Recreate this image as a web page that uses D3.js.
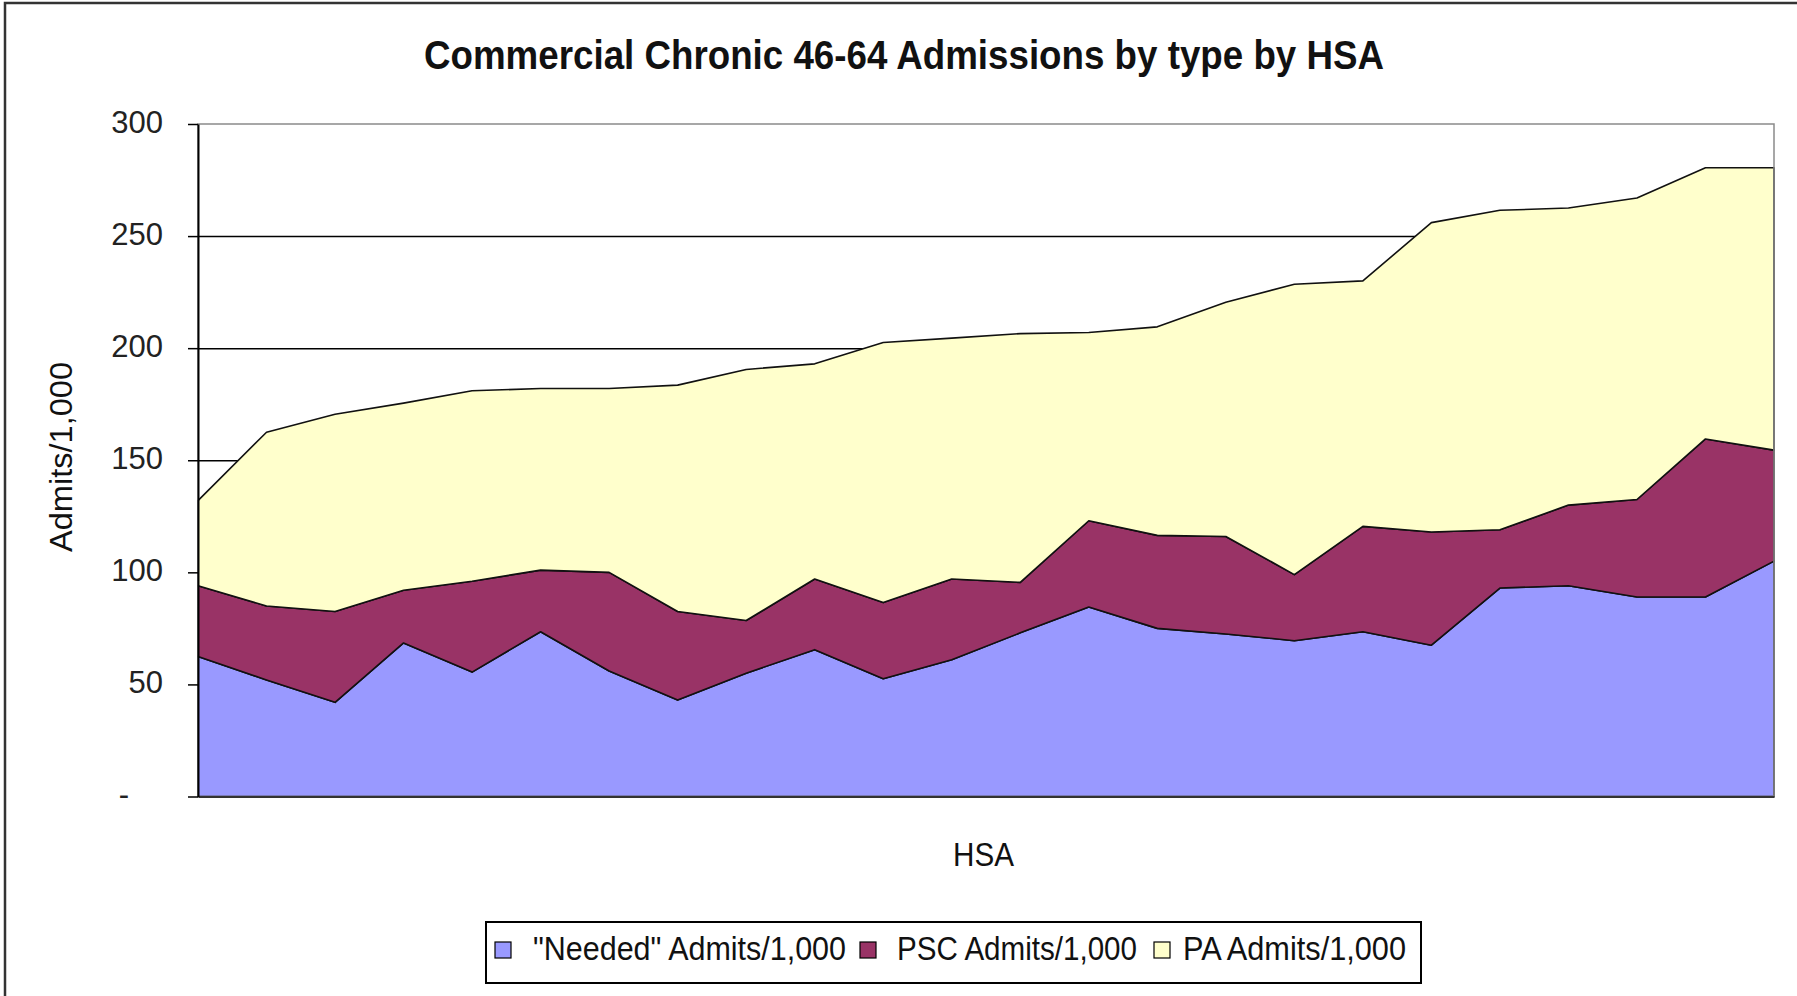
<!DOCTYPE html>
<html>
<head>
<meta charset="utf-8">
<script src="https://cdn.jsdelivr.net/npm/d3@7"></script>
<style>
body { margin: 0; background: #fff; }
text { font-family: Arial, "Liberation Sans", sans-serif; fill: #111; }
</style>
</head>
<body>
<div id="chart"></div>
<script>

// HSA categories (no labels are printed on the x axis)
var hsa = [1, 2, 3, 4, 5, 6, 7, 8, 9, 10, 11, 12, 13, 14, 15, 16, 17, 18, 19, 20, 21, 22, 23, 24];

// admits per 1,000
var needed = [62.5, 52, 42, 68.5, 55.5, 73.5, 56, 43, 55, 65.5, 52.5, 61, 73, 84.5, 75, 72.5, 69.5, 73.5, 67.5, 93, 94, 89, 89, 105];
var psc = [31.5, 33, 40.5, 23.5, 40.5, 27.5, 44, 39.5, 23.5, 31.5, 34, 36, 22.5, 38.5, 41.5, 43.5, 29.5, 47, 50.5, 26, 36, 43.5, 70.5, 49.5];
var pa = [38, 77.5, 88, 83.5, 85, 81, 82, 101, 112, 96, 116, 107.5, 111, 84, 93, 104.5, 129.5, 109.5, 138, 142.5, 132.5, 134.5, 121, 126];

var seriesKeys = ["needed", "psc", "pa"];
var seriesNames = ['"Needed" Admits/1,000', "PSC Admits/1,000", "PA Admits/1,000"];
var seriesColors = ["#9999ff", "#993366", "#ffffcc"];
var yTicks = [0, 50, 100, 150, 200, 250, 300];

var margin = {top: 124, right: 23, bottom: 199.5, left: 198};
var width = 1797 - margin.left - margin.right;
var height = 996 - margin.top - margin.bottom;

var svg = d3.select("#chart").append("svg")
  .attr("width", 1797)
  .attr("height", 996);

// outer chart frame (right and bottom edges fall outside the picture)
svg.append("rect")
  .attr("x", 5)
  .attr("y", 3)
  .attr("width", 1900)
  .attr("height", 1100)
  .attr("fill", "none")
  .attr("stroke", "#333")
  .attr("stroke-width", 2.5);

svg.append("text")
  .attr("x", 904)
  .attr("y", 69)
  .attr("text-anchor", "middle")
  .style("font-weight", "bold")
  .style("font-size", "40px")
  .attr("textLength", 960)
  .attr("lengthAdjust", "spacingAndGlyphs")
  .text("Commercial Chronic 46-64 Admissions by type by HSA");

var g = svg.append("g")
  .attr("transform", "translate(" + margin.left + "," + margin.top + ")");

var x = d3.scalePoint().domain(hsa).range([0, width]);
var y = d3.scaleLinear().domain([0, 300]).range([height, 0]);

var rows = hsa.map(function(h, i) {
  return {hsa: h, needed: needed[i], psc: psc[i], pa: pa[i]};
});
var layers = d3.stack().keys(seriesKeys)(rows);

// gridlines sit under the areas
var grid = g.append("g")
  .call(d3.axisLeft(y).tickValues([50, 100, 150, 200, 250]).tickSize(-width).tickFormat(""));
grid.select(".domain").remove();
grid.selectAll("line").attr("stroke", "#000").attr("stroke-width", 1.5);

var area = d3.area()
  .x(function(d) { return x(d.data.hsa); })
  .y0(function(d) { return y(d[0]); })
  .y1(function(d) { return y(d[1]); });

g.selectAll(".layer")
  .data(layers)
  .enter()
  .append("path")
  .attr("class", "layer")
  .attr("d", area)
  .attr("fill", function(d, i) { return seriesColors[i]; })
  .attr("stroke", "#111")
  .attr("stroke-width", 1.6)
  .attr("stroke-linejoin", "round");

// plot area border
g.append("rect")
  .attr("width", width)
  .attr("height", height)
  .attr("fill", "none")
  .attr("stroke", "#8a8a8a")
  .attr("stroke-width", 1.5);

var g_x = g.append("g")
  .attr("transform", "translate(0," + height + ")")
  .call(d3.axisBottom(x).tickValues([]).tickSizeOuter(0));
g_x.select(".domain").attr("stroke", "#333").attr("stroke-width", 2);

var g_y = g.append("g")
  .call(d3.axisLeft(y)
    .tickValues(yTicks)
    .tickSize(10)
    .tickSizeOuter(0)
    .tickPadding(25)
    .tickFormat(function(d) { return d === 0 ? "-" : d; }));
g_y.select(".domain").attr("stroke", "#000").attr("stroke-width", 2);
g_y.selectAll(".tick line").attr("stroke", "#000").attr("stroke-width", 1.5);
g_y.selectAll(".tick text")
  .attr("font-size", 31)
  .attr("font-family", "Arial, Liberation Sans, sans-serif")
  .attr("dy", "0.26em")
  .style("fill", "#222");
// accounting style zero: dash padded by two digit widths
g_y.selectAll(".tick text").filter(function(d) { return d === 0; })
  .attr("x", -69);

svg.append("text")
  .attr("transform", "translate(72,457) rotate(-90)")
  .attr("text-anchor", "middle")
  .style("font-size", "32px")
  .attr("textLength", 190)
  .attr("lengthAdjust", "spacingAndGlyphs")
  .text("Admits/1,000");

svg.append("text")
  .attr("x", 983.5)
  .attr("y", 866)
  .attr("text-anchor", "middle")
  .style("font-size", "33px")
  .attr("textLength", 61)
  .attr("lengthAdjust", "spacingAndGlyphs")
  .text("HSA");

// legend
var legendSwatchX = [495, 860, 1154];
var legendTextX = [533, 897, 1183];
var legendTextW = [313, 240, 223];

var legend = svg.append("g");
legend.append("rect")
  .attr("x", 486)
  .attr("y", 922)
  .attr("width", 935)
  .attr("height", 61)
  .attr("fill", "#fff")
  .attr("stroke", "#000")
  .attr("stroke-width", 2);

legend.selectAll(".swatch")
  .data(seriesNames)
  .enter()
  .append("rect")
  .attr("class", "swatch")
  .attr("x", function(d, i) { return legendSwatchX[i]; })
  .attr("y", 942)
  .attr("width", 16)
  .attr("height", 16)
  .attr("fill", function(d, i) { return seriesColors[i]; })
  .attr("stroke", "#000")
  .attr("stroke-width", 1.2);

legend.selectAll(".label")
  .data(seriesNames)
  .enter()
  .append("text")
  .attr("class", "label")
  .attr("x", function(d, i) { return legendTextX[i]; })
  .attr("y", 960)
  .style("font-size", "33px")
  .attr("textLength", function(d, i) { return legendTextW[i]; })
  .attr("lengthAdjust", "spacingAndGlyphs")
  .text(function(d) { return d; });

</script>
</body>
</html>
